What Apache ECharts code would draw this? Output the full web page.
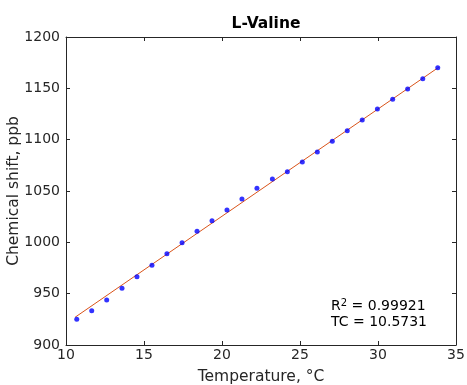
<!DOCTYPE html>
<html>
<head>
<meta charset="utf-8">
<script src="https://cdn.jsdelivr.net/npm/echarts@6/dist/echarts.min.js"></script>
<style>html,body{margin:0;padding:0;background:#fff}#chart{width:467px;height:385px}</style>
</head>
<body>
<div id="chart"></div>
<script>
// measured points
const temperature = [10.69, 11.65, 12.61, 13.59, 14.55, 15.51, 16.47, 17.44, 18.40, 19.36, 20.32, 21.28, 22.24,
  23.23, 24.19, 25.15, 26.11, 27.07, 28.03, 28.99, 29.96, 30.94, 31.90, 32.87, 33.83]
const shift = [925.0, 933.4, 943.8, 955.2, 966.5, 977.6, 988.9, 999.7, 1010.7, 1021.1, 1031.5, 1042.2, 1052.6,
  1061.7, 1068.8, 1078.2, 1088.0, 1098.4, 1108.7, 1119.2, 1129.9, 1139.3, 1149.4, 1159.4, 1170.1]
// fitted line end points
const fitT = [10.58, 33.90]
const fitShift = [927.0, 1170.6]

const font = 'DejaVu Sans'
const ink = '#262626'

const chart = echarts.init(document.getElementById('chart'))
const axisCommon = {
  axisLine: { show: true, onZero: false, lineStyle: { color: ink, width: 1 } },
  axisTick: { show: true, inside: true, length: 4, lineStyle: { color: ink } },
  splitLine: { show: false }
}
chart.setOption({
  animation: false,
  title: {
    text: 'L-Valine', left: 261, top: 11, textAlign: 'center',
    textStyle: { fontFamily: font, fontSize: 15.5, fontWeight: 'bold', color: '#000' }
  },
  grid: { left: 66, right: 11, top: 37, bottom: 40, containLabel: false, outerBoundsMode: 'none' },
  xAxis: [
    Object.assign({}, axisCommon, {
      type: 'value', min: 10, max: 35, interval: 5,
      name: 'Temperature, °C', nameLocation: 'middle', nameGap: 24, nameMoveOverlap: false,
      nameTextStyle: { fontFamily: font, fontSize: 15.5, color: ink },
      axisLabel: { fontFamily: font, fontSize: 14, color: ink, margin: 3 }
    }),
    Object.assign({}, axisCommon, {
      type: 'value', min: 10, max: 35, interval: 5, position: 'top',
      axisLabel: { show: false }
    })
  ],
  yAxis: [
    Object.assign({}, axisCommon, {
      type: 'value', min: 900, max: 1200, interval: 50,
      name: 'Chemical shift, ppb', nameLocation: 'middle', nameGap: 44, nameMoveOverlap: false,
      nameTextStyle: { fontFamily: font, fontSize: 15.5, color: ink },
      axisLabel: { fontFamily: font, fontSize: 14, color: ink, margin: 6, formatter: v => String(v) }
    }),
    Object.assign({}, axisCommon, {
      type: 'value', min: 900, max: 1200, interval: 50, position: 'right',
      axisLabel: { show: false }
    })
  ],
  series: [
    {
      type: 'line',
      data: fitT.map((t, i) => [t, fitShift[i]]),
      symbol: 'none',
      lineStyle: { color: '#d95319', width: 1 },
      z: 2
    },
    {
      type: 'scatter',
      data: temperature.map((t, i) => [t, shift[i]]),
      symbolSize: 5,
      itemStyle: { color: '#0000ff' },
      z: 3
    }
  ],
  graphic: [
    {
      type: 'text', left: 331, top: 298,
      style: {
        text: 'R{sup|2} = 0.99921\nTC = 10.5731',
        font: '14px "DejaVu Sans"', fill: '#000', lineHeight: 16,
        rich: { sup: { font: '10px "DejaVu Sans"', verticalAlign: 'top', padding: [0, 0, 7, 0] } }
      }
    }
  ]
})
</script>
</body>
</html>
